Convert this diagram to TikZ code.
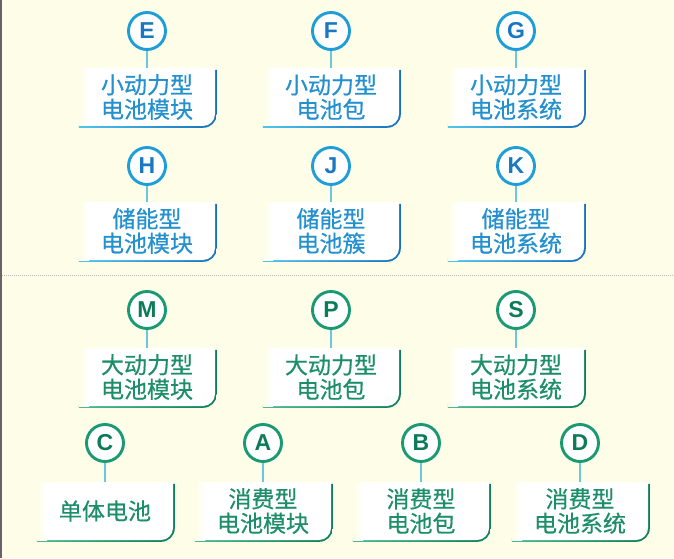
\documentclass[tikz,border=0pt]{standalone}
\usepackage{fontspec}
\usepackage{tikz}
\newfontfamily\cjk[FakeBold=0.5]{Noto Sans CJK SC}
\newfontfamily\tagfont{Liberation Sans}

\definecolor{bgcol}{HTML}{FEFDE8}
\definecolor{bring}{HTML}{1E9ED9}
\definecolor{bletter}{HTML}{1878C2}
\definecolor{btext}{HTML}{2390CF}
\definecolor{blineA}{HTML}{4FC6EC}
\definecolor{blineB}{HTML}{1670BE}
\definecolor{gring}{HTML}{1A9A73}
\definecolor{gletter}{HTML}{0C7B58}
\definecolor{gtext}{HTML}{1C8E69}
\definecolor{glineA}{HTML}{4DBA95}
\definecolor{glineB}{HTML}{0D7E5A}
\definecolor{conn}{HTML}{68C8E0}

\tikzset{
  bdot/.style={circle, draw=bring, line width=2.9pt, fill=white, minimum size=37pt, inner sep=0pt,
    text=bletter, font=\tagfont\bfseries\fontsize{23}{23}\selectfont},
  gdot/.style={bdot, draw=gring, text=gletter},
  tagbox/.style n args={3}{minimum width=136pt, minimum height=58pt, inner sep=0pt, align=center,
    text=#1, font=\cjk\fontsize{23}{24.5}\selectfont,
    path picture={
      \fill[white] ([xshift=10pt]path picture bounding box.north west) -- (path picture bounding box.north east)
        -- ([yshift=12pt]path picture bounding box.south east) arc[start angle=0, end angle=-90, radius=12pt]
        -- ([xshift=10pt]path picture bounding box.south west) -- cycle;
      \shade[left color=bgcol, right color=white] (path picture bounding box.south west)
        rectangle ([xshift=10pt]path picture bounding box.north west);
    },
    append after command={\pgfextra{\shade[left color=#2, right color=#3]
      ([yshift=-1.6pt]\tikzlastnode.south west) -- ([xshift=-12pt,yshift=-1.6pt]\tikzlastnode.south east)
      arc[start angle=-90, end angle=0, radius=13.6pt] -- ([xshift=1.6pt,yshift=-2pt]\tikzlastnode.north east)
      -- ([xshift=-1.6pt,yshift=-2pt]\tikzlastnode.north east) -- ([xshift=-1.6pt,yshift=12pt]\tikzlastnode.south east)
      arc[start angle=0, end angle=-90, radius=10.4pt] -- ([yshift=1.6pt]\tikzlastnode.south west) -- cycle;}}},
  bbox/.style={tagbox={btext}{blineA}{blineB}},
  gbox/.style={tagbox={gtext}{glineA}{glineB}},
  link/.style={draw=conn, line width=1.5pt}
}

\begin{document}
\begin{tikzpicture}[x=1pt, y=1pt]

    \useasboundingbox (0,0) rectangle (674,558);
    \fill[bgcol] (0,0) rectangle (674,558);
    \fill[gray!80!black] (0,0) rectangle (2,558);

    % small power / storage
    \node[bdot] (cE) at (147,527) {E};
    \node[bdot] (cF) at (331,527) {F};
    \node[bdot] (cG) at (516,527) {G};
    \node[bbox] (bE) at (147,461) {小动力型\\电池模块};
    \node[bbox] (bF) at (331,461) {小动力型\\电池包};
    \node[bbox] (bG) at (516,461) {小动力型\\电池系统};

    \node[bdot] (cH) at (147,392) {H};
    \node[bdot] (cJ) at (331,392) {J};
    \node[bdot] (cK) at (516,392) {K};
    \node[bbox] (bH) at (147,327) {储能型\\电池模块};
    \node[bbox] (bJ) at (331,327) {储能型\\电池簇};
    \node[bbox] (bK) at (516,327) {储能型\\电池系统};

    \draw[link] (cE) -- (bE);
    \draw[link] (cF) -- (bF);
    \draw[link] (cG) -- (bG);
    \draw[link] (cH) -- (bH);
    \draw[link] (cJ) -- (bJ);
    \draw[link] (cK) -- (bK);

    \draw[gray!55, line width=1pt, dash pattern=on 1pt off 1pt] (2,283) -- (674,283);

    % large power / consumer
    \node[gdot] (cM) at (147,248) {M};
    \node[gdot] (cP) at (331,248) {P};
    \node[gdot] (cS) at (516,248) {S};
    \node[gbox] (bM) at (147,181) {大动力型\\电池模块};
    \node[gbox] (bP) at (331,181) {大动力型\\电池包};
    \node[gbox] (bS) at (516,181) {大动力型\\电池系统};

    \node[gdot] (cC) at (105,115) {C};
    \node[gdot] (cA) at (263,115) {A};
    \node[gdot] (cB) at (421,115) {B};
    \node[gdot] (cD) at (580,115) {D};
    \node[gbox] (bC) at (105,47) {单体电池};
    \node[gbox] (bA) at (263,47) {消费型\\电池模块};
    \node[gbox] (bB) at (421,47) {消费型\\电池包};
    \node[gbox] (bD) at (580,47) {消费型\\电池系统};

    \draw[link] (cM) -- (bM);
    \draw[link] (cP) -- (bP);
    \draw[link] (cS) -- (bS);
    \draw[link] (cC) -- (bC);
    \draw[link] (cA) -- (bA);
    \draw[link] (cB) -- (bB);
    \draw[link] (cD) -- (bD);

\end{tikzpicture}
\end{document}
